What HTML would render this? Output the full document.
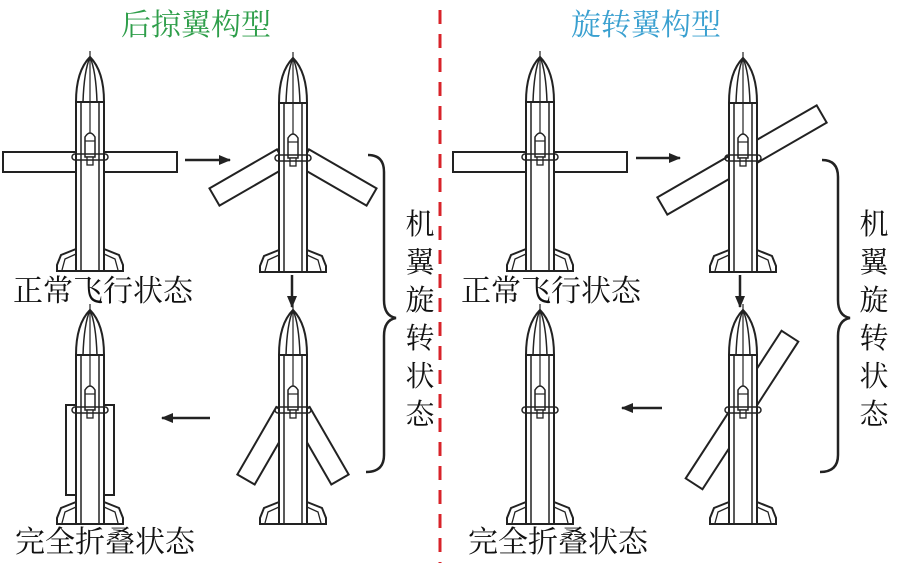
<!DOCTYPE html>
<html><head><meta charset="utf-8"><style>
body{margin:0;background:#fff;width:900px;height:563px;overflow:hidden}
svg{display:block}
text{font-family:"Liberation Serif","Noto Serif CJK SC","Noto Sans CJK SC",serif}
</style></head><body>
<svg width="900" height="563" viewBox="0 0 900 563" xmlns="http://www.w3.org/2000/svg">
<defs>
<g id="m" fill="#fff" stroke="#222" stroke-width="2">
  <path d="M-14,45 Q-14,14 0,0 Q14,14 14,45 Z"/>
  <path d="M-7,45 Q-6,14 0,0 Q6,14 7,45" fill="none" stroke-width="1.5"/>
  <path d="M-14,192 L-29,198 L-33,208 L-33,214 L-14,214 Z"/>
  <path d="M14,192 L29,198 L33,208 L33,214 L14,214 Z"/>
  <path d="M-14,197 L-25,202 L-28,213 M14,197 L25,202 L28,213" fill="none" stroke-width="1.3"/>
  <rect x="-14" y="45" width="28" height="169"/>
  <path d="M-9,45 V214 M9,45 V214" fill="none" stroke-width="1.5"/>
  <path d="M0,-6 V100" fill="none" stroke-width="1.2"/>
  <path d="M-5,100 V80 Q0,72 5,80 V100 Z" stroke-width="1.5"/>
  <path d="M-5,84 H5" stroke-width="1.2"/>
  <rect x="-3" y="100" width="6" height="8" stroke-width="1.3"/>
  <rect x="-18" y="97" width="36" height="6" rx="3" fill="none" stroke-width="1.5"/>
</g>
<marker id="a" markerWidth="12" markerHeight="10" refX="11" refY="5" orient="auto" markerUnits="userSpaceOnUse"><path d="M0,0 L12,5 L0,10 Z" fill="#222"/></marker>
</defs>
<line x1="440" y1="10" x2="440" y2="563" stroke="#d8232a" stroke-width="3" stroke-dasharray="14,10"/>
<text x="196" y="35" font-size="30" fill="#2e9e4a" text-anchor="middle">后掠翼构型</text>
<text x="646" y="35" font-size="30" fill="#3aa0d0" text-anchor="middle">旋转翼构型</text>

<g fill="#fff" stroke="#222" stroke-width="2">
<rect x="3" y="152" width="174" height="20"/>
<g transform="translate(282,158) rotate(150)"><rect x="0" y="-10" width="78" height="20"/></g>
<g transform="translate(304,158) rotate(30)"><rect x="0" y="-10" width="78" height="20"/></g>
<g transform="translate(285,412) rotate(120)"><rect x="0" y="-10" width="78" height="20"/></g>
<g transform="translate(301,412) rotate(60)"><rect x="0" y="-10" width="78" height="20"/></g>
<rect x="66" y="405" width="10" height="90"/>
<rect x="104" y="405" width="10" height="90"/>
<rect x="453" y="152" width="174" height="20"/>
<g transform="translate(742,160) rotate(-30)"><rect x="-92" y="-10" width="184" height="20"/></g>
<g transform="translate(742,410) rotate(-57)"><rect x="-88" y="-10" width="176" height="20"/></g>
</g>

<use href="#m" x="90" y="57"/>
<use href="#m" x="293" y="58"/>
<use href="#m" x="90" y="310"/>
<use href="#m" x="293" y="310"/>
<use href="#m" x="540" y="57"/>
<use href="#m" x="743" y="58"/>
<use href="#m" x="540" y="310"/>
<use href="#m" x="743" y="310"/>

<g stroke="#222" stroke-width="2.5" marker-end="url(#a)">
<line x1="185" y1="160" x2="230" y2="160"/>
<line x1="292" y1="275" x2="292" y2="307"/>
<line x1="210" y1="418" x2="162" y2="418"/>
<line x1="636" y1="158" x2="680" y2="158"/>
<line x1="740" y1="275" x2="740" y2="307"/>
<line x1="662" y1="408" x2="622" y2="408"/>
</g>

<g fill="none" stroke="#222" stroke-width="2.5">
<path d="M368,155 Q384,155 384,172 V300 Q384,316 396,318 Q384,320 384,336 V455 Q384,472 366,472"/>
<path d="M822,160 Q838,160 838,177 V300 Q838,316 850,318 Q838,320 838,336 V455 Q838,472 820,472"/>
</g>

<g font-size="29" fill="#111" text-anchor="middle">
<text x="420" y="234">机</text><text x="420" y="272">翼</text><text x="420" y="310">旋</text>
<text x="420" y="348">转</text><text x="420" y="386">状</text><text x="420" y="424">态</text>
<text x="874" y="234">机</text><text x="874" y="272">翼</text><text x="874" y="310">旋</text>
<text x="874" y="348">转</text><text x="874" y="386">状</text><text x="874" y="424">态</text>
<g font-size="30">
<text x="103" y="301">正常飞行状态</text>
<text x="105" y="552">完全折叠状态</text>
<text x="551" y="301">正常飞行状态</text>
<text x="558" y="552">完全折叠状态</text>
</g>
</g>
</svg>
</body></html>
